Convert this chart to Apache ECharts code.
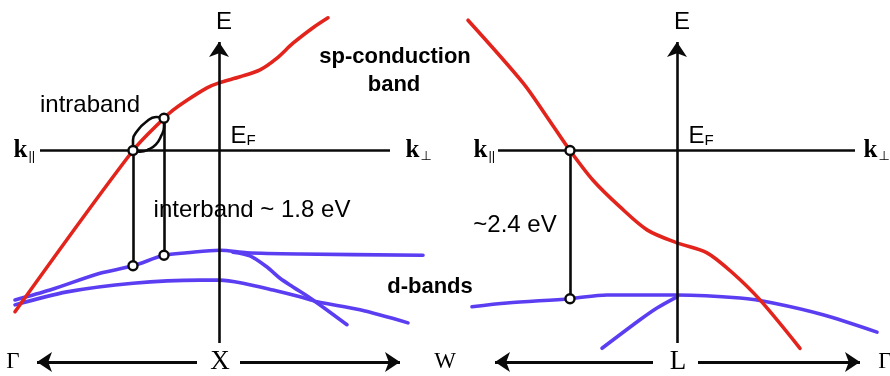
<!DOCTYPE html>
<html><head><meta charset="utf-8">
<script src="https://cdn.jsdelivr.net/npm/echarts@6/dist/echarts.min.js"></script>
<style>html,body{margin:0;padding:0;background:#fff}#c{width:890px;height:376px}</style>
</head><body><div id="c"></div>
<script>
// ---- Data (k in a.u. relative to symmetry point, E in eV relative to E_F) ----
// Left panel: Γ - X - W
const spBandX = [[-2.04,-2.60],[-0.86,0],[-0.55,0.52],[-0.46,0.65],[-0.32,0.81],[-0.12,1.01],[0,1.09],[0.21,1.19],[0.41,1.30],[0.58,1.49],[0.74,1.73],[0.94,1.98],[1.09,2.14]];
const dBandX1 = [[-2.04,-2.41],[-1.69,-2.25],[-1.19,-1.98],[-0.86,-1.86],[-0.55,-1.69],[-0.32,-1.65],[0.01,-1.61],[0.28,-1.65],[0.81,-1.67],[2.04,-1.69]];
const dBandX2 = [[0.14,-1.64],[0.31,-1.70],[0.48,-1.88],[0.61,-2.06],[0.74,-2.20],[0.94,-2.41],[1.28,-2.81]];
const dBandX3 = [[-2.04,-2.49],[-1.52,-2.28],[-0.86,-2.14],[-0.19,-2.09],[0.01,-2.09],[0.24,-2.14],[0.54,-2.25],[0.81,-2.36],[0.98,-2.44],[1.41,-2.57],[1.89,-2.78]];
const intrabandLoop = [[-0.86,0],[-0.86,0.17],[-0.81,0.33],[-0.73,0.46],[-0.63,0.54],[-0.55,0.52],[-0.55,0.38],[-0.58,0.23],[-0.63,0.10],[-0.70,0.02],[-0.79,-0.02],[-0.86,0]];
const interbandX = [[[-0.86,0],[-0.86,-1.86]],[[-0.55,0.52],[-0.55,-1.69]]];
const statesX = [[-0.86,0],[-0.55,0.52],[-0.86,-1.86],[-0.55,-1.69]];
// Right panel: W - L - Γ
const spBandL = [[-2.09,2.10],[-1.54,1.09],[-1.30,0.54],[-1.07,0],[-0.84,-0.48],[-0.57,-0.91],[-0.30,-1.28],[0,-1.49],[0.30,-1.65],[0.56,-1.98],[0.83,-2.41],[1.23,-3.19]];
const dBandL1 = [[-2.05,-2.52],[-1.70,-2.46],[-1.07,-2.39],[-0.70,-2.33],[0,-2.33],[0.63,-2.38],[0.96,-2.46],[1.46,-2.65],[2.00,-2.93]];
const dBandL2 = [[0,-2.36],[-0.20,-2.54],[-0.37,-2.73],[-0.75,-3.19]];
const interbandL = [[[-1.07,0],[-1.07,-2.39]]];
const statesL = [[-1.07,0],[-1.07,-2.39]];
// Axes drawn in each panel (k axis at E_F, E axis at the symmetry point)
const kAxisX = [[[-1.79,0],[1.71,0]]], eAxisX = [[[0,-3.105],[0,1.75]]];
const kAxisL = [[[-1.79,0],[1.78,0]]], eAxisL = [[[0,-3.105],[0,1.75]]];
// Direction arrows (k-path) below each panel
const pathArrowsX = [[[-0.22,-3.41],[-1.82,-3.41]],[[0.21,-3.41],[1.81,-3.41]]];
const pathArrowsL = [[[-0.24,-3.41],[-1.82,-3.41]],[[0.21,-3.41],[1.83,-3.41]]];
// Panel extents
const kRangeX = [-2.19, 2.26], kRangeL = [-2.32, 2.13], eRange = [-3.637, 2.427];
// Text annotations: [text, k, E, kind]
const labelsX = [
  ['E',0.05,2.07,'E'],['EF',0.11,0.23,'EF'],['kpar',-2.06,0,'kpar'],['kperp',1.86,0,'kperp'],
  ['intraband',-1.29,0.73,'txt'],['interband ~ 1.8 eV',0.33,-0.96,'txt'],
  ['sp-conduction',1.76,1.51,'bold'],['band',1.75,1.06,'bold'],['d-bands',2.11,-2.20,'bold'],
  ['Γ',-2.06,-3.41,'pt'],['X',0.01,-3.41,'ptBig'],['W',2.26,-3.41,'pt']
];
const labelsL = [
  ['E',0.05,2.07,'E'],['EF',0.11,0.23,'EF'],['kpar',-2.04,0,'kpar'],['kperp',1.86,0,'kperp'],
  ['~2.4 eV',-1.62,-1.20,'txt'],['L',0.01,-3.41,'ptBig'],['Γ',2.08,-3.41,'pt']
];

// ---- Styles ----
const RED = '#e2241c', BLUE = '#5b3ef2', BLACK = '#0a0a0a', TXT = '#000000';
const SANS = '"Liberation Sans", Arial, sans-serif';
const SERIF = '"Liberation Serif", "Times New Roman", serif';

function axesFor(i, kr) {
  return {
    x: {type:'value', gridIndex:i, min:kr[0], max:kr[1], show:false},
    y: {type:'value', gridIndex:i, min:eRange[0], max:eRange[1], show:false}
  };
}
const aX = axesFor(0, kRangeX), aL = axesFor(1, kRangeL);

function curve(data, color, w, i, smooth) {
  return {type:'line', data, xAxisIndex:i, yAxisIndex:i, symbol:'none', smooth:smooth, clip:false, z:2,
    lineStyle:{color, width:w, cap:'round', join:'round'}, silent:true, animation:false};
}
function segs(list, i, arrow, w, z) {
  return {type:'lines', coordinateSystem:'cartesian2d', xAxisIndex:i, yAxisIndex:i, clip:false, z:z||6,
    symbol: arrow ? ['none','arrow'] : ['none','none'], symbolSize: arrow ? [11,15] : 0,
    lineStyle:{color:BLACK, width:w, opacity:1, curveness:0},
    data: list.map(c => ({coords:c})), silent:true, animation:false};
}
function states(pts, i) {
  return {type:'scatter', data:pts, xAxisIndex:i, yAxisIndex:i, symbol:'circle', symbolSize:9, z:8, clip:false,
    itemStyle:{color:'#fff', borderColor:BLACK, borderWidth:2.4, opacity:1}, silent:true, animation:false};
}
const base = {color:TXT, textBorderWidth:0, opacity:1};
const styles = {
  E: {formatter:'E', position:'inside', fontFamily:SANS, fontSize:24},
  EF: {formatter:'{e|E}{f|F}', position:'right', distance:0, rich:{e:{fontFamily:SANS, fontSize:24, color:TXT}, f:{fontFamily:SANS, fontSize:15, color:TXT, padding:[10,0,0,0], verticalAlign:'bottom'}}},
  kpar: {formatter:'{k|k}{s|||}', position:'right', distance:0, rich:{k:{fontFamily:SERIF, fontWeight:'bold', fontSize:25, color:TXT}, s:{fontFamily:SANS, fontSize:13, color:TXT, padding:[12,0,0,1], verticalAlign:'bottom'}}},
  kperp: {formatter:'{k|k}{s|⊥}', position:'right', distance:0, rich:{k:{fontFamily:SERIF, fontWeight:'bold', fontSize:25, color:TXT}, s:{fontFamily:'"DejaVu Sans", sans-serif', fontSize:13, color:TXT, padding:[12,0,0,1], verticalAlign:'bottom'}}},
  txt: {position:'inside', fontFamily:SANS, fontSize:24},
  bold: {position:'inside', fontFamily:SANS, fontWeight:'bold', fontSize:22},
  pt: {position:'inside', fontFamily:SERIF, fontSize:23},
  ptBig: {position:'inside', fontFamily:SERIF, fontSize:27}
};
function texts(list, i) {
  return {type:'scatter', xAxisIndex:i, yAxisIndex:i, symbolSize:1, clip:false, z:9, silent:true, animation:false,
    itemStyle:{color:'rgba(0,0,0,0)'},
    data: list.map(([t,k,e,kind]) => {
      const s = Object.assign({show:true}, base, styles[kind]);
      if (!s.formatter) s.formatter = t;
      return {value:[k,e], label:s};
    })};
}

const option = {
  animation:false,
  backgroundColor:'#ffffff',
  grid:[{left:0, top:0, width:445, height:376}, {left:445, top:0, width:445, height:376}],
  xAxis:[aX.x, aL.x], yAxis:[aX.y, aL.y],
  series:[
    curve(dBandX1, BLUE, 3.6, 0, 0.3), curve(dBandX2, BLUE, 3.6, 0, 0.3), curve(dBandX3, BLUE, 3.6, 0, 0.3),
    curve(spBandX, RED, 3.6, 0, 0.3),
    segs(kAxisX, 0, false, 2.6, 5), segs(eAxisX, 0, true, 2.6, 5),
    Object.assign(curve(intrabandLoop, BLACK, 2.6, 0, 0.5), {z:7}),
    segs(interbandX, 0, false, 2.6), states(statesX, 0), segs(pathArrowsX, 0, true, 3), texts(labelsX, 0),
    curve(dBandL1, BLUE, 3.6, 1, 0.3), curve(dBandL2, BLUE, 3.6, 1, 0.3),
    curve(spBandL, RED, 3.6, 1, 0.3),
    segs(kAxisL, 1, false, 2.6, 5), segs(eAxisL, 1, true, 2.6, 5),
    segs(interbandL, 1, false, 2.6), states(statesL, 1), segs(pathArrowsL, 1, true, 3), texts(labelsL, 1)
  ]
};
const chart = echarts.init(document.getElementById('c'), null, {renderer:'canvas'});
chart.setOption(option);
</script></body></html>
